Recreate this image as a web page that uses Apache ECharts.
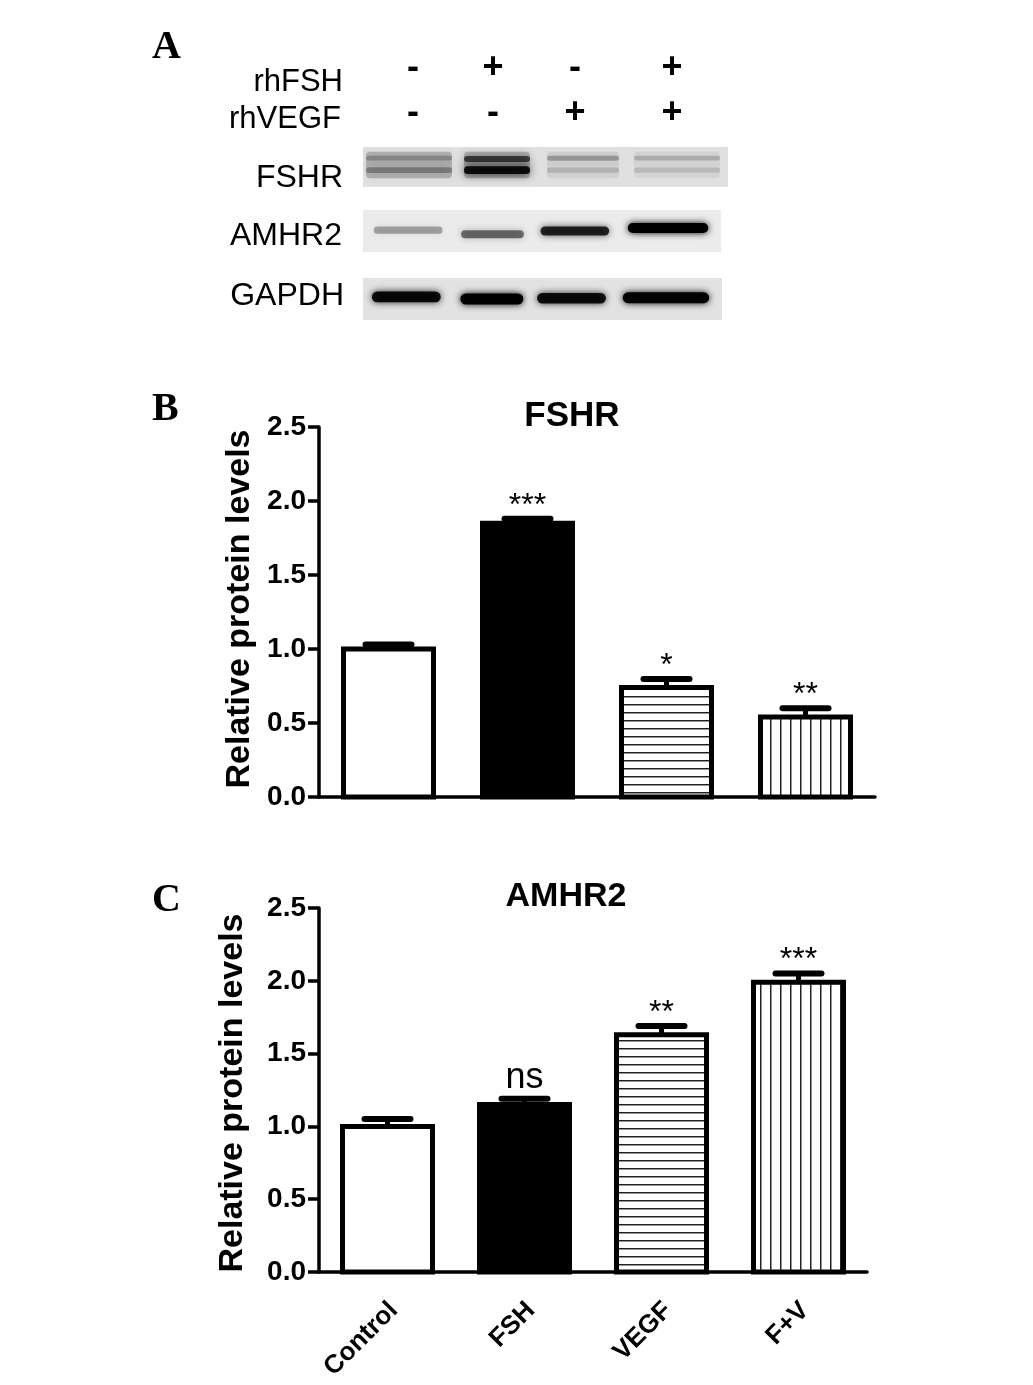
<!DOCTYPE html>
<html>
<head>
<meta charset="utf-8">
<style>
    html, body { margin: 0; padding: 0; background: #fff; }
    #chart { width: 1033px; height: 1385px; }
</style>
<script src="https://cdn.jsdelivr.net/npm/echarts@6/dist/echarts.min.js"></script>
</head>
<body>
<div id="chart"></div>
<script>
const categories = ['Control', 'FSH', 'VEGF', 'F+V']
const yTicks = [0, 0.5, 1, 1.5, 2, 2.5]

const fshrValues = [1.0, 1.85, 0.74, 0.54]
const fshrErrors = [0.03, 0.03, 0.057, 0.06]
const fshrMarks = ['', '***', '*', '**']

const amhr2Values = [1.0, 1.15, 1.63, 1.99]
const amhr2Errors = [0.05, 0.04, 0.06, 0.06]
const amhr2Marks = ['', 'ns', '**', '***']

// panel A, band darkness per lane
const rhFshSigns = ['-', '+', '-', '+']
const rhVegfSigns = ['-', '-', '+', '+']
const fshrLaneShade = [0.2, 0.2, 0.07, 0.05]
const fshrUpperBand = [0.22, 0.62, 0.26, 0.18]
const fshrLowerBand = [0.28, 0.9, 0.14, 0.12]
const amhr2Band = [0.3, 0.5, 0.8, 1]
const gapdhBand = [0.92, 1, 0.9, 0.98]

const font = '"Liberation Sans", Arial, sans-serif'

const makePattern = (horizontal) => {
    let c = document.createElement('canvas')
    c.width = horizontal ? 8 : 10
    c.height = 8
    let ctx = c.getContext('2d')
    ctx.fillStyle = '#fff'
    ctx.fillRect(0, 0, c.width, c.height)
    ctx.fillStyle = '#222'
    if (horizontal) {
        ctx.fillRect(0, 0, c.width, 1.5)
    } else {
        ctx.fillRect(0, 0, 1.5, c.height)
    }
    return { image: c, repeat: 'repeat' }
}
const barFills = ['#fff', '#000', makePattern(true), makePattern(false)]

// lane layout of each blot, in pixels from the left of its grid
const fshrLayout = { pos: [46, 134, 220, 314], width: [86, 66, 72, 86], upper: [0.28, 0.3, 0.28, 0.28], lower: [0.58, 0.58, 0.58, 0.58] }
const amhr2Layout = { pos: [46, 132, 216, 311], width: [70, 64, 70, 82], level: [0.48, 0.58, 0.5, 0.43] }
const gapdhLayout = { pos: [44, 131, 212, 308], width: [70, 64, 70, 88], level: [0.45, 0.5, 0.48, 0.47] }

const makeBandRender = (layout, levels, height, blur) => (params, api) => {
    let lane = api.value(0)
    let p = api.coord([layout.pos[lane], levels[lane]])
    let w = api.size([layout.width[lane], 0])[0]
    let d = api.value(1)
    let h = height * (0.6 + 0.4 * d)
    let color = 'rgba(0,0,0,' + d + ')'
    return {
        type: 'rect',
        shape: { x: p[0] - w / 2, y: p[1] - h / 2, width: w, height: h, r: h / 2 },
        style: { fill: color, shadowBlur: blur, shadowColor: color }
    }
}

const blotSeries = (index, band, layout, levels, height, blur) => ({
    type: 'custom',
    xAxisIndex: index,
    yAxisIndex: index,
    silent: true,
    renderItem: makeBandRender(layout, levels, height, blur),
    data: band.map((d, i) => [i, d])
})

const shadeRender = (params, api) => {
    let lane = api.value(0)
    let p = api.coord([fshrLayout.pos[lane], 0.12])
    let q = api.coord([fshrLayout.pos[lane], 0.78])
    let w = api.size([fshrLayout.width[lane], 0])[0]
    let color = 'rgba(0,0,0,' + api.value(1) + ')'
    return {
        type: 'rect',
        shape: { x: p[0] - w / 2, y: p[1], width: w, height: q[1] - p[1], r: 4 },
        style: { fill: color, shadowBlur: 10, shadowColor: color }
    }
}

const errorRender = (params, api) => {
    let top = api.coord([api.value(0), api.value(1) + api.value(2)])
    let base = api.coord([api.value(0), api.value(1)])
    let isNs = api.value(3) === 'ns'
    return {
        type: 'group',
        children: [
            { type: 'line', shape: { x1: base[0], y1: base[1], x2: top[0], y2: top[1] }, style: { stroke: '#000', lineWidth: 5 } },
            { type: 'line', shape: { x1: top[0] - 23, y1: top[1], x2: top[0] + 23, y2: top[1] }, style: { stroke: '#000', lineWidth: 6, lineCap: 'round' } },
            {
                type: 'text',
                x: top[0],
                y: top[1] + (isNs ? -3 : 3),
                style: {
                    text: api.value(3),
                    font: (isNs ? '36px ' : '32px ') + font,
                    fill: '#000',
                    align: 'center',
                    verticalAlign: 'bottom'
                }
            }
        ]
    }
}

const barRender = (params, api) => {
    let i = api.value(0)
    let top = api.coord([i, api.value(1)])
    let base = api.coord([i, 0])
    return {
        type: 'rect',
        shape: { x: top[0] - 45, y: top[1], width: 90, height: base[1] - top[1] },
        style: { fill: barFills[i], stroke: '#000', lineWidth: 5 }
    }
}

const barAxisX = (grid, showLabel) => ({
    type: 'category',
    gridIndex: grid,
    data: categories,
    axisLine: { lineStyle: { color: '#000', width: 3.5 } },
    axisTick: { alignWithLabel: true, length: 12, lineStyle: { color: '#000', width: 3.5 } },
    axisLabel: {
        show: showLabel,
        rotate: 45,
        interval: 0,
        margin: 28,
        verticalAlign: 'top',
        lineHeight: 18,
        color: '#000',
        fontFamily: font,
        fontWeight: 'bold',
        fontSize: 26
    }
})

const barAxisY = (grid, nameGap, namePadding) => ({
    type: 'value',
    gridIndex: grid,
    min: 0,
    max: 2.5,
    interval: 0.5,
    name: 'Relative protein levels',
    nameLocation: 'middle',
    nameGap: nameGap,
    nameTextStyle: { color: '#000', fontFamily: font, fontWeight: 'bold', fontSize: 34, padding: namePadding },
    splitLine: { show: false },
    axisLine: { show: true, lineStyle: { color: '#000', width: 3.5 } },
    axisTick: { show: true, length: 11, lineStyle: { color: '#000', width: 3.5 } },
    axisLabel: {
        margin: 13,
        padding: [8, 0, 0, 0],
        color: '#000',
        fontFamily: font,
        fontWeight: 'bold',
        fontSize: 28,
        formatter: (v) => (yTicks.includes(v) ? v.toFixed(1) : '')
    }
})

const barSeries = (axis, values) => ({
    type: 'custom',
    xAxisIndex: axis,
    yAxisIndex: axis,
    silent: true,
    clip: false,
    renderItem: barRender,
    encode: { x: 0, y: 1 },
    data: values.map((v, i) => [i, v])
})

const errorSeries = (axis, values, errors, marks) => ({
    type: 'custom',
    xAxisIndex: axis,
    yAxisIndex: axis,
    silent: true,
    clip: false,
    renderItem: errorRender,
    encode: { x: 0, y: 1 },
    data: values.map((v, i) => [i, v, errors[i], marks[i]])
})

const blotAxis = (grid) => [
    { type: 'value', gridIndex: grid, min: 0, max: 365, show: false },
    { type: 'value', gridIndex: grid, min: 0, max: 1, show: false, inverse: true }
]
const blotAxes = [blotAxis(0), blotAxis(1), blotAxis(2)]

const textEl = (text, x, y, size, weight, align, family) => ({
    type: 'text',
    x: x,
    y: y,
    silent: true,
    style: {
        text: text,
        font: weight + ' ' + size + 'px ' + (family || font),
        fill: '#000',
        align: align || 'center',
        verticalAlign: 'middle'
    }
})

const signY = [68, 113]
const signX = [413, 493, 575, 672]
const signEls = []
rhFshSigns.forEach((s, i) => signEls.push(textEl(s, signX[i], signY[0], 36, 'bold')))
rhVegfSigns.forEach((s, i) => signEls.push(textEl(s, signX[i], signY[1], 36, 'bold')))

const chart = echarts.init(document.getElementById('chart'))
chart.setOption({
    backgroundColor: '#fff',
    animation: false,
    title: [
        { text: 'FSHR', left: 567, top: 394, textAlign: 'center', textStyle: { color: '#000', fontFamily: font, fontWeight: 'bold', fontSize: 35 } },
        { text: 'AMHR2', left: 561, top: 875, textAlign: 'center', textStyle: { color: '#000', fontFamily: font, fontWeight: 'bold', fontSize: 34 } }
    ],
    grid: [
        { left: 363, top: 147, width: 365, height: 40, show: true, backgroundColor: '#e0e0e0', borderWidth: 0 },
        { left: 363, top: 210, width: 358, height: 42, show: true, backgroundColor: '#ebebeb', borderWidth: 0 },
        { left: 363, top: 278, width: 359, height: 42, show: true, backgroundColor: '#e2e2e2', borderWidth: 0 },
        { left: 319, top: 427, width: 556, height: 370 },
        { left: 319, top: 908, width: 548, height: 364 }
    ],
    xAxis: [blotAxes[0][0], blotAxes[1][0], blotAxes[2][0], barAxisX(3, false), barAxisX(4, true)],
    yAxis: [blotAxes[0][1], blotAxes[1][1], blotAxes[2][1], barAxisY(3, 60, [0, 0, 0, 6]), barAxisY(4, 69, [0, 6, 0, 0])],
    series: [
        {
            type: 'custom',
            xAxisIndex: 0,
            yAxisIndex: 0,
            silent: true,
            renderItem: shadeRender,
            data: fshrLaneShade.map((d, i) => [i, d])
        },
        blotSeries(0, fshrUpperBand, fshrLayout, fshrLayout.upper, 7, 9),
        blotSeries(0, fshrLowerBand, fshrLayout, fshrLayout.lower, 8, 10),
        blotSeries(1, amhr2Band, amhr2Layout, amhr2Layout.level, 10, 7),
        blotSeries(2, gapdhBand, gapdhLayout, gapdhLayout.level, 11, 7),
        barSeries(3, fshrValues),
        errorSeries(3, fshrValues, fshrErrors, fshrMarks),
        barSeries(4, amhr2Values),
        errorSeries(4, amhr2Values, amhr2Errors, amhr2Marks)
    ],
    graphic: [
        textEl('A', 152, 48, 40, 'bold', 'left', '"Liberation Serif", serif'),
        textEl('B', 152, 410, 40, 'bold', 'left', '"Liberation Serif", serif'),
        textEl('C', 152, 901, 40, 'bold', 'left', '"Liberation Serif", serif'),
        textEl('rhFSH', 343, 82, 31, 'normal', 'right'),
        textEl('rhVEGF', 341, 119, 31, 'normal', 'right'),
        textEl('FSHR', 343, 178, 32, 'normal', 'right'),
        textEl('AMHR2', 342, 236, 32, 'normal', 'right'),
        textEl('GAPDH', 344, 296, 32, 'normal', 'right')
    ].concat(signEls)
})
</script>
</body>
</html>
